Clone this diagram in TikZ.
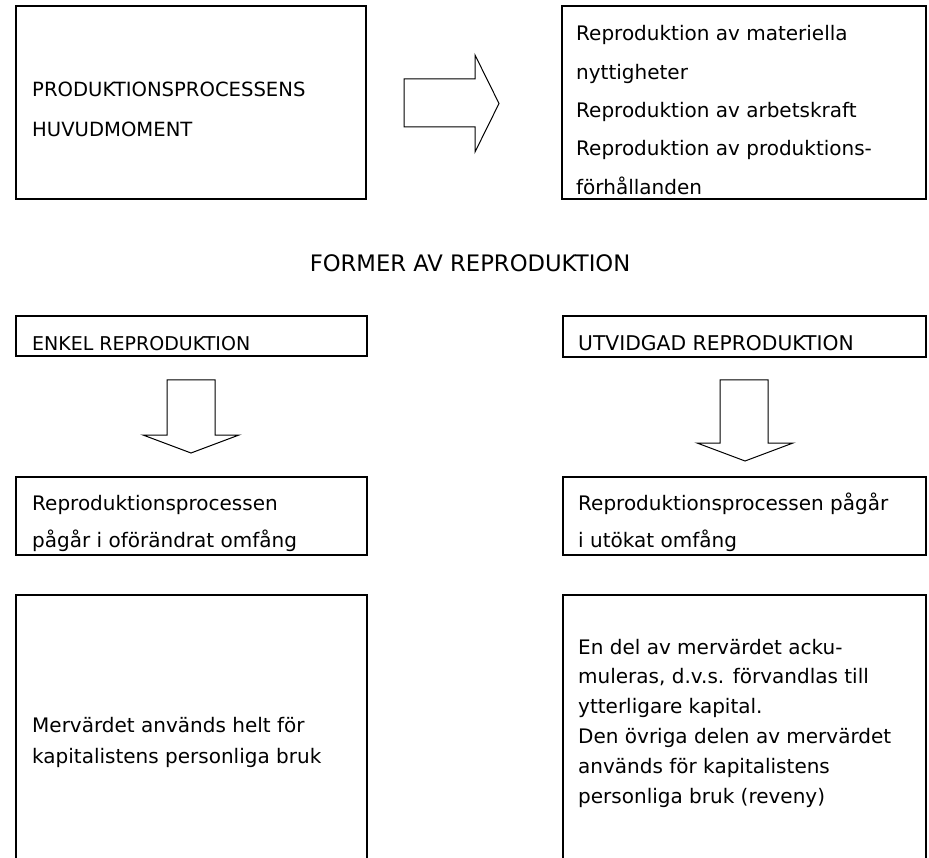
\documentclass[tikz,border=0pt]{standalone}
\usepackage{fontspec}
\setmainfont{DejaVu Sans}
\begin{document}
\begin{tikzpicture}[x=1pt,y=-1pt,
  box/.style={draw, line width=2.2pt, inner sep=0pt, outer sep=0pt, anchor=north west},
  lbl/.style={inner sep=0pt, anchor=base west, font=\fontsize{20}{24}\selectfont},
  caps/.style={inner sep=0pt, anchor=base west, font=\fontsize{19.6}{24}\selectfont},
  blockarrow/.style={draw, line width=1pt, line join=miter, fill=white}]
\useasboundingbox (0,0) rectangle (929,858);
\clip (0,0) rectangle (929,858);

% top row
\node[box, minimum width=350pt, minimum height=193pt] (A) at (16,6) {};
\node[box, minimum width=364pt, minimum height=193pt] (B) at (562,6) {};
\node[caps] (a1) at (32,97) {PRODUKTIONSPROCESSENS};
\node[caps] (a2) at (32,137) {HUVUDMOMENT};
\foreach \t [count=\i] in {{Reproduktion av materiella},{nyttigheter},{Reproduktion av arbetskraft},{Reproduktion av produktions-},{förhållanden}}
  \node[lbl, name=b\i] at (576,{41+38.3*(\i-1)}) {\t};
\draw[blockarrow] (404,79) -- (475,79) -- (475,55) -- (499,103.5) -- (475,152) -- (475,127) -- (404,127) -- cycle;

% title
\node[inner sep=0pt, anchor=base, font=\fontsize{22.7}{26}\selectfont] (T) at (470,272) {FORMER AV REPRODUKTION};

% second row
\node[box, minimum width=351pt, minimum height=40pt] (C) at (16,316) {};
\node[box, minimum width=363pt, minimum height=41pt] (D) at (563,316) {};
\node[caps, font=\fontsize{19}{24}\selectfont] (c1) at (32,351) {ENKEL REPRODUKTION};
\node[caps, font=\fontsize{20.3}{24}\selectfont] (d1) at (578,351) {UTVIDGAD REPRODUKTION};

% down arrows
\draw[blockarrow] (167,380) -- (215,380) -- (215,435) -- (239,435) -- (191,453) -- (143,435) -- (167,435) -- cycle;
\draw[blockarrow] (720,380) -- (768,380) -- (768,443) -- (793,443) -- (745,461) -- (697,443) -- (720,443) -- cycle;

% third row
\node[box, minimum width=351pt, minimum height=78pt] (E) at (16,477) {};
\node[box, minimum width=363pt, minimum height=78pt] (F) at (563,477) {};
\node[lbl] (e1) at (32,510) {Reproduktionsprocessen};
\node[lbl] (e2) at (32,547) {pågår i oförändrat omfång};
\node[lbl] (f1) at (578,510) {Reproduktionsprocessen pågår};
\node[lbl] (f2) at (578,547) {i utökat omfång};

% bottom row
\node[box, minimum width=351pt, minimum height=300pt] (G) at (16,595) {};
\node[box, minimum width=363pt, minimum height=300pt] (H) at (563,595) {};
\node[lbl] (g1) at (32,732) {Mervärdet används helt för};
\node[lbl] (g2) at (32,763) {kapitalistens personliga bruk};
\foreach \t [count=\i] in {{En del av mervärdet acku-},{muleras, d.v.s. förvandlas till},{ytterligare kapital.},{Den övriga delen av mervärdet},{används för kapitalistens},{personliga bruk (reveny)}}
  \node[lbl, name=h\i] at (578,{654+29.8*(\i-1)}) {\t};
\end{tikzpicture}
\end{document}
